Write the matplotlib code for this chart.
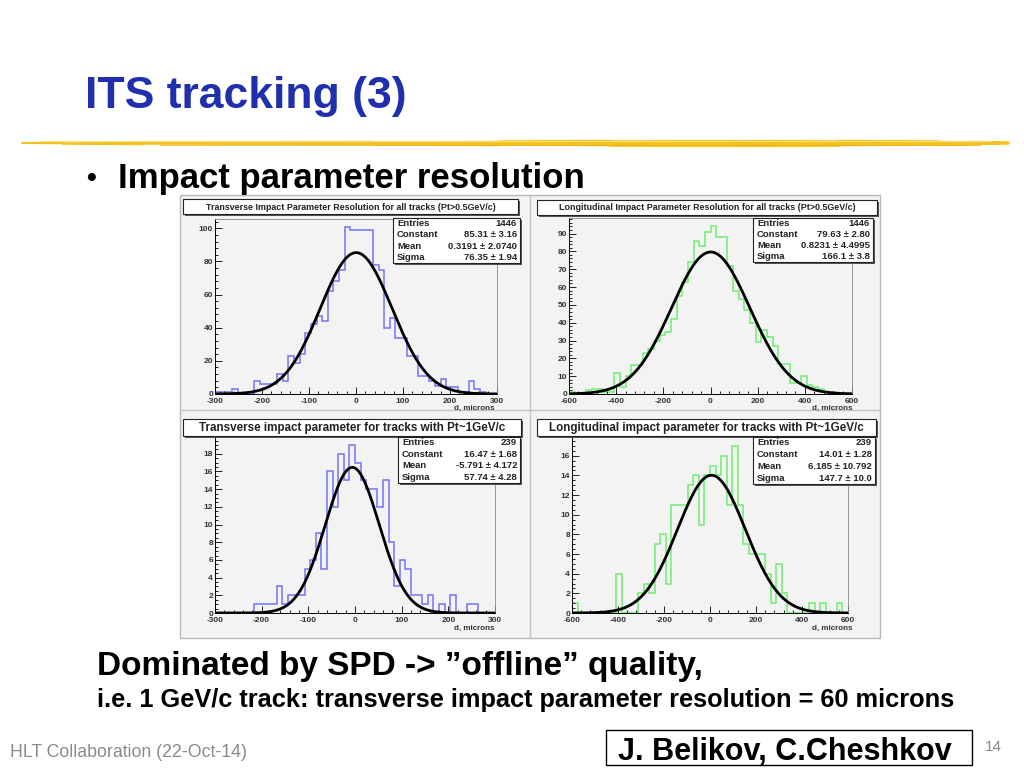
"""ITS tracking (3) slide: impact parameter resolution histograms"""

import numpy as np
import matplotlib
matplotlib.use("Agg")
import matplotlib.pyplot as plt
from matplotlib.patches import Rectangle
from matplotlib.collections import LineCollection
from matplotlib.ticker import MultipleLocator

plt.rcParams['axes.unicode_minus'] = False

W, H = 1024, 768
NARROW = ['Liberation Sans Narrow', 'Liberation Sans', 'DejaVu Sans']
ROOTF = ['Liberation Sans', 'DejaVu Sans']

# histogram contents, 50 bins each
trans_all = [1, 1, 1, 3, 0, 0, 0, 8, 6, 6,
             6, 12, 8, 23, 19, 24, 37, 42, 47, 44,
             62, 68, 75, 101, 99, 99, 99, 99, 78, 75,
             40, 46, 34, 34, 23, 23, 11, 11, 8, 5,
             9, 4, 4, 1, 1, 8, 3, 1, 0, 0]
long_all = [1, 0, 0, 2, 3, 3, 1, 1, 12, 4,
            10, 16, 16, 23, 25, 30, 33, 35, 42, 55,
            63, 74, 86, 83, 91, 94, 88, 88, 72, 58,
            53, 47, 40, 29, 36, 32, 27, 17, 17, 6,
            6, 10, 5, 4, 3, 1, 1, 0, 0, 0]
trans_1gev = [0, 0, 0, 0, 0, 0, 0, 1, 1, 1,
              1, 3, 1, 2, 2, 2, 5, 6, 9, 5,
              16, 12, 18, 15, 19, 17, 15, 14, 14, 12,
              15, 8, 3, 6, 5, 2, 2, 1, 2, 0,
              1, 0, 2, 0, 0, 1, 1, 0, 0, 0]
long_1gev = [1, 0, 0, 0, 0, 0, 0, 0, 4, 0,
             0, 0, 2, 3, 2, 7, 8, 3, 11, 11,
             11, 13, 14, 9, 14, 15, 14, 16, 11, 17,
             11, 7, 6, 6, 6, 4, 1, 5, 2, 0,
             0, 0, 0, 1, 0, 1, 0, 0, 1, 0]

# gaussian fit results (Constant, Mean, Sigma) from the stat boxes
fit_trans_all = (85.31, 0.3191, 76.35)
fit_long_all = (79.63, 0.8231, 166.1)
fit_trans_1gev = (16.47, -5.791, 57.74)
fit_long_1gev = (14.01, 6.185, 147.7)

stats_trans_all = [("Entries", "1446"), ("Constant", "85.31 \u00b1 3.16"),
                   ("Mean", "0.3191 \u00b1 2.0740"), ("Sigma", "76.35 \u00b1 1.94")]
stats_long_all = [("Entries", "1446"), ("Constant", "79.63 \u00b1 2.80"),
                  ("Mean", "0.8231 \u00b1 4.4995"), ("Sigma", "166.1 \u00b1 3.8")]
stats_trans_1gev = [("Entries", "239"), ("Constant", "16.47 \u00b1 1.68"),
                    ("Mean", "-5.791 \u00b1 4.172"), ("Sigma", "57.74 \u00b1 4.28")]
stats_long_1gev = [("Entries", "239"), ("Constant", "14.01 \u00b1 1.28"),
                   ("Mean", "6.185 \u00b1 10.792"), ("Sigma", "147.7 \u00b1 10.0")]

titles = ["Transverse Impact Parameter Resolution for all tracks (Pt>0.5GeV/c)",
          "Longitudinal Impact Parameter Resolution for all tracks (Pt>0.5GeV/c)",
          "Transverse impact parameter for tracks with Pt~1GeV/c",
          "Longitudinal impact parameter for tracks with Pt~1GeV/c"]

BLUE = '#7272f6'
GREEN = '#70ee70'
CANVAS = '#f3f3f3'

fig = plt.figure(figsize=(W / 100, H / 100), dpi=100)
fig.patch.set_facecolor('white')


def px_axes(x0, y0, x1, y1, **kw):
    return fig.add_axes([x0 / W, 1 - y1 / H, (x1 - x0) / W, (y1 - y0) / H], **kw)


# background of the ROOT canvas
bg = px_axes(0, 0, W, H)
bg.set_xlim(0, W)
bg.set_ylim(H, 0)
bg.axis('off')
bg.add_patch(Rectangle((180, 195), 700, 443, facecolor=CANVAS, edgecolor='#b8b8b8', lw=1))
bg.plot([530, 530], [195, 638], color='#c4c4c4', lw=1)
bg.plot([180, 880], [410, 410], color='#c4c4c4', lw=1)


def draw_hist(frame, xr, ylim, counts, color, fit, xmaj, xmin, ymaj, ymin):
    ax = px_axes(*frame)
    edges = np.linspace(xr[0], xr[1], len(counts) + 1)
    ax.stairs(counts, edges, color=color, lw=1.1)
    c, m, s = fit
    xs = np.linspace(xr[0], xr[1], 400)
    ax.plot(xs, c * np.exp(-0.5 * ((xs - m) / s) ** 2), color='black', lw=2)
    ax.set_xlim(*xr)
    ax.set_ylim(*ylim)
    ax.set_facecolor(CANVAS)
    ax.xaxis.set_major_locator(MultipleLocator(xmaj))
    ax.xaxis.set_minor_locator(MultipleLocator(xmin))
    ax.yaxis.set_major_locator(MultipleLocator(ymaj))
    ax.yaxis.set_minor_locator(MultipleLocator(ymin))
    ax.tick_params(which='both', direction='in', labelsize=6, width=0.6)
    ax.tick_params(axis='y', pad=1.5)
    ax.tick_params(axis='x', pad=3)
    ax.tick_params(which='major', length=5)
    ax.tick_params(which='minor', length=2.5)
    for lab in ax.get_xticklabels() + ax.get_yticklabels():
        lab.set_fontweight('bold')
        lab.set_family(ROOTF)
        lab.set_color('#333333')
    for sp in ['top', 'right']:
        ax.spines[sp].set_color('#888888')
        ax.spines[sp].set_linewidth(0.6)
    for sp in ['left', 'bottom']:
        ax.spines[sp].set_linewidth(0.7)
    return ax


draw_hist((215, 219, 497, 394), (-300, 300), (0, 105.6), trans_all, BLUE,
          fit_trans_all, 100, 20, 20, 4)
draw_hist((569, 218, 852, 394), (-600, 600), (0, 98.7), long_all, GREEN,
          fit_long_all, 200, 40, 10, 2)
draw_hist((215, 437, 495, 613), (-300, 300), (0, 19.9), trans_1gev, BLUE,
          fit_trans_1gev, 100, 20, 2, 0.5)
draw_hist((572, 437, 848, 613), (-600, 600), (0, 17.9), long_1gev, GREEN,
          fit_long_1gev, 200, 40, 2, 0.5)

# overlay for boxes and slide text, in pixel coordinates
ov = px_axes(0, 0, W, H)
ov.set_xlim(0, W)
ov.set_ylim(H, 0)
ov.axis('off')
ov.patch.set_alpha(0)


def shadow_box(x0, y0, x1, y1):
    ov.add_patch(Rectangle((x0 + 2, y0 + 2), x1 - x0, y1 - y0, facecolor='#555555', edgecolor='none'))
    ov.add_patch(Rectangle((x0, y0), x1 - x0, y1 - y0, facecolor='white', edgecolor='#222222', lw=0.8))


def title_box(box, text, size):
    x0, y0, x1, y1 = box
    shadow_box(x0, y0, x1, y1)
    ov.text((x0 + x1) / 2, (y0 + y1) / 2 + 0.5, text, ha='center', va='center',
            fontsize=size, fontweight='bold', family=ROOTF, color='#222222')


def stats_box(box, rows):
    x0, y0, x1, y1 = box
    shadow_box(x0, y0, x1, y1)
    dy = (y1 - y0) / len(rows)
    for i, (k, v) in enumerate(rows):
        yy = y0 + dy * (i + 0.5)
        ov.text(x0 + 4, yy, k, ha='left', va='center', fontsize=6.8,
                fontweight='bold', family=ROOTF, color='#222222')
        ov.text(x1 - 3, yy, v, ha='right', va='center', fontsize=6.8,
                fontweight='bold', family=ROOTF, color='#222222')


title_box((183, 199, 518, 214), titles[0], 6.4)
title_box((537, 200, 877, 215), titles[1], 6.4)
title_box((183, 419, 521, 436), titles[2], 8.4)
title_box((537, 419, 876, 436), titles[3], 8.4)

stats_box((393, 218, 520, 263), stats_trans_all)
stats_box((753, 218, 873, 262), stats_long_all)
stats_box((398, 437, 520, 483), stats_trans_1gev)
stats_box((753, 437, 875, 484), stats_long_1gev)

# x axis titles
for x, y, clip in [(495, 408, (180, 195, 350, 215)), (852, 408, (530, 195, 350, 215)),
                   (495, 628, (180, 410, 350, 228)), (852, 628, (530, 410, 350, 228))]:
    t = ov.text(x, y, "d, microns", ha='right', va='center', fontsize=5.8,
                fontweight='bold', family=ROOTF, color='#333333')
    t.set_clip_path(Rectangle(clip[:2], clip[2], clip[3], transform=ov.transData))

# slide title and gold brush rule
ov.text(85, 108, "ITS tracking (3)", ha='left', va='baseline', fontsize=32,
        fontweight='bold', family=NARROW, color='#1f2fae')
gx = np.linspace(22, 1008, 100)
gw = np.interp(gx, [22, 150, 420, 620, 760, 930, 1008], [1.5, 2.6, 3.4, 4.8, 5.2, 4.0, 2.4])
segs = [[(gx[i], 143), (gx[i + 1], 143)] for i in range(len(gx) - 1)]
ov.add_collection(LineCollection(segs, linewidths=gw[:-1], colors='#f3c21e', capstyle='round'))
ov.plot([40, 990], [141.3, 141.3], color='#f9e08a', lw=0.9, alpha=0.9)
ov.plot([160, 980], [145.0, 145.0], color='#e9b00c', lw=0.7, alpha=0.7)

ov.text(86, 186, "\u2022", ha='left', va='baseline', fontsize=20, fontweight='bold',
        family=['Liberation Sans', 'DejaVu Sans'], color='black')
ov.text(118, 188, "Impact parameter resolution", ha='left', va='baseline', fontsize=25,
        fontweight='bold', family=NARROW, color='black')

ov.text(97, 675, "Dominated by SPD -> \u201doffline\u201d quality,", ha='left', va='baseline',
        fontsize=24, fontweight='bold', family=NARROW, color='black')
ov.text(97, 707, "i.e. 1 GeV/c track: transverse impact parameter resolution = 60 microns",
        ha='left', va='baseline', fontsize=18.3, fontweight='bold', family=NARROW, color='black')

ov.text(10, 757, "HLT Collaboration (22-Oct-14)", ha='left', va='baseline', fontsize=12.8,
        family=NARROW, color='#8a8a8a')
ov.add_patch(Rectangle((606, 730), 366, 35, facecolor='white', edgecolor='black', lw=1))
ov.text(618, 760, "J. Belikov, C.Cheshkov", ha='left', va='baseline', fontsize=22,
        fontweight='bold', family=NARROW, color='black')
ov.text(985, 751, "14", ha='left', va='baseline', fontsize=11, family=NARROW, color='#8a8a8a')

fig.savefig("out.png", dpi=100)
plt.close(fig)
